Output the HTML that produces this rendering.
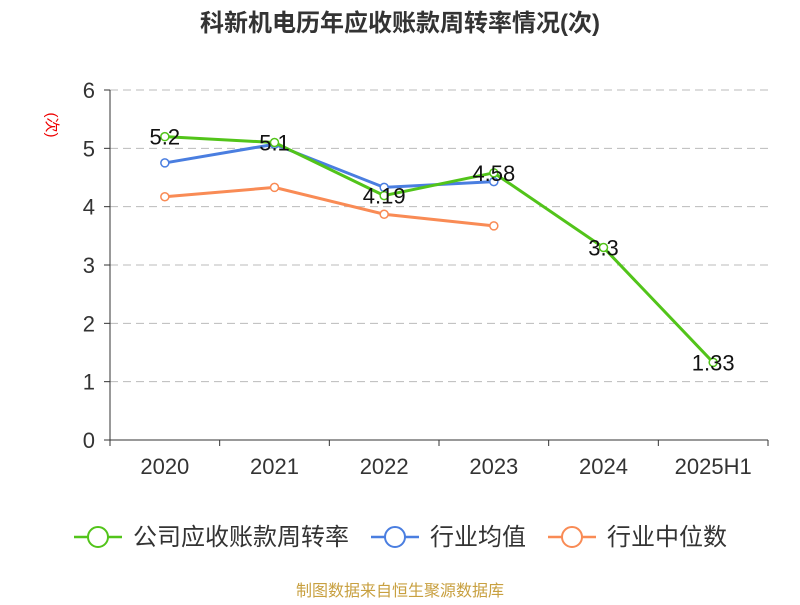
<!DOCTYPE html>
<html><head><meta charset="utf-8"><style>
body{margin:0;background:#fff;}
svg text{font-family:"Liberation Sans","Noto Sans CJK SC",sans-serif;}
</style></head><body>
<svg id="chart" width="800" height="600">
<text x="400" y="31" text-anchor="middle" font-size="24" font-weight="bold" fill="#333">科新机电历年应收账款周转率情况(次)</text>
<text transform="translate(47,125) rotate(90)" text-anchor="middle" font-size="15" fill="#e00">(次)</text>
<g id="grid"></g><g id="axes"></g><g id="series"></g>
<g>
<g><line x1="74" y1="537" x2="122" y2="537" stroke="#52c41a" stroke-width="2.5"/><circle cx="98" cy="537" r="10" fill="#fff" stroke="#52c41a" stroke-width="2"/><text x="133" y="545" font-size="24" fill="#333">公司应收账款周转率</text></g>
<g><line x1="371" y1="537" x2="419" y2="537" stroke="#4a7ee0" stroke-width="2.5"/><circle cx="395" cy="537" r="10" fill="#fff" stroke="#4a7ee0" stroke-width="2"/><text x="430" y="545" font-size="24" fill="#333">行业均值</text></g>
<g><line x1="548" y1="537" x2="596" y2="537" stroke="#f98b55" stroke-width="2.5"/><circle cx="572" cy="537" r="10" fill="#fff" stroke="#f98b55" stroke-width="2"/><text x="607" y="545" font-size="24" fill="#333">行业中位数</text></g>
</g>
<text x="400" y="596" text-anchor="middle" font-size="16" fill="#c8a040">制图数据来自恒生聚源数据库</text>
</svg>
<script>
const categories=["2020","2021","2022","2023","2024","2025H1"];
const companyValues=[5.2,5.1,4.19,4.58,3.3,1.33];
const industryAvg=[4.75,5.07,4.33,4.43];
const industryMedian=[4.17,4.33,3.87,3.67];
const yTicks=[0,1,2,3,4,5,6];
const NS="http://www.w3.org/2000/svg";
const x0=110,x1=768,y0=440,y1=90,ymax=6;
const bw=(x1-x0)/categories.length;
const xs=i=>x0+bw*(i+0.5);
const ys=v=>y0-(v/ymax)*(y0-y1);
function mk(tag,attrs,parent){const e=document.createElementNS(NS,tag);for(const k in attrs)e.setAttribute(k,attrs[k]);parent.appendChild(e);return e;}
const grid=document.getElementById('grid'),axes=document.getElementById('axes'),ser=document.getElementById('series');
yTicks.forEach(t=>{
  if(t>0){const l=mk('line',{x1:x0,x2:x1,y1:ys(t),y2:ys(t),stroke:'#bbb','stroke-dasharray':'8,5'},grid);
  
  }
  const tk=mk('line',{x1:x0-6,x2:x0,y1:ys(t),y2:ys(t),stroke:'#333'},axes);
  
  
  const tx=mk('text',{x:x0-15,y:ys(t)+8,'text-anchor':'end','font-size':22,fill:'#333'},axes);
  tx.textContent=t;
  
  
});
const ya=mk('line',{x1:x0,x2:x0,y1:y1,y2:y0,stroke:'#333'},axes);


const xa=mk('line',{x1:x0,x2:x1,y1:y0,y2:y0,stroke:'#333'},axes);


for(let i=0;i<=categories.length;i++){const t=mk('line',{x1:x0+bw*i,x2:x0+bw*i,y1:y0,y2:y0+6,stroke:'#333'},axes);

}
categories.forEach((c,i)=>{const t=mk('text',{x:xs(i),y:474,'text-anchor':'middle','font-size':22,fill:'#333'},axes);t.textContent=c;

});
function series(vals,color,name,labels){
  const g=mk('g',{},ser);
  
  
  const p=mk('polyline',{points:vals.map((v,i)=>xs(i)+','+ys(v)).join(' '),fill:'none',stroke:color,'stroke-width':3},g);
  
  
  vals.forEach((v,i)=>{const c=mk('circle',{cx:xs(i),cy:ys(v),r:4,fill:'#fff',stroke:color,'stroke-width':1.5},g);
    
    
    if(labels){const t=mk('text',{x:xs(i),y:ys(v)+8,'text-anchor':'middle','font-size':22,fill:'#111'},g);t.textContent=v;
      
      }
  });
}
series(industryMedian,'#f98b55','series-industry-median',false);
series(industryAvg,'#4a7ee0','series-industry-avg',false);
series(companyValues,'#52c41a','series-company',true);
</script>
</body></html>
